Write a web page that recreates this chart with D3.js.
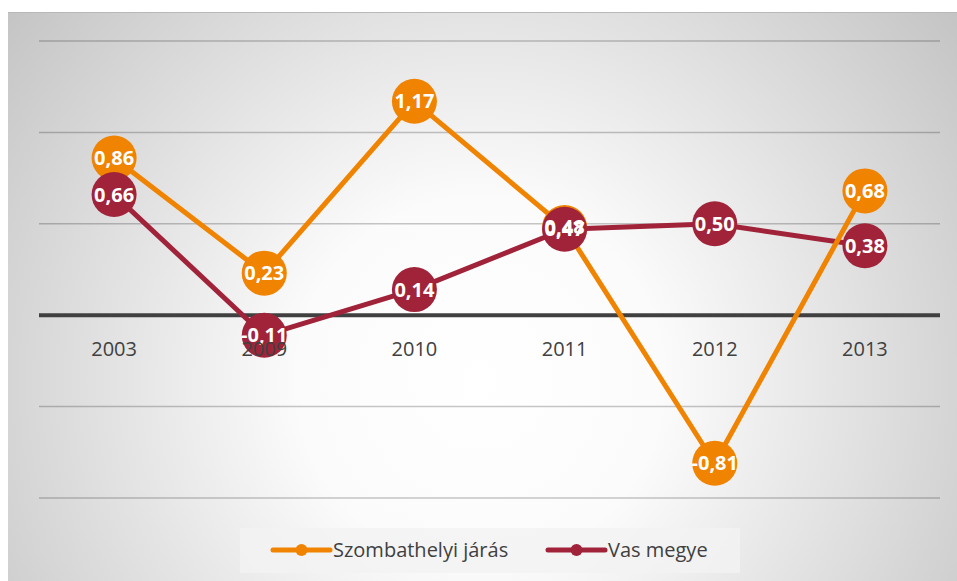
<!DOCTYPE html>
<html><head><meta charset="utf-8">
<script src="https://cdn.jsdelivr.net/npm/d3@7"></script>
<style>html,body{margin:0;padding:0;background:#fff;}svg{display:block;}</style>
</head><body>
<svg id="chart" width="957" height="581"></svg>
<script>
const categories = ["2003", "2009", "2010", "2011", "2012", "2013"];
const szombathely = [0.86, 0.23, 1.17, 0.48, -0.81, 0.68];
const vas = [0.66, -0.11, 0.14, 0.47, 0.50, 0.38];
const yTicks = [-1, -0.5, 0, 0.5, 1, 1.5];
const seriesNames = ["Szombathelyi járás", "Vas megye"];
const colors = ["#F08300", "#A0233A"];

const svg = d3.select("#chart");
const W = 957, H = 581;
const defs = svg.append("defs");
const grad = defs.append("radialGradient").attr("id", "bg")
  .attr("gradientUnits", "userSpaceOnUse")
  .attr("cx", 480).attr("cy", 380).attr("r", 610);
grad.append("stop").attr("offset", "0%").attr("stop-color", "#ffffff");
grad.append("stop").attr("offset", "30%").attr("stop-color", "#fbfbfb");
grad.append("stop").attr("offset", "100%").attr("stop-color", "#c3c3c3");

svg.append("rect").attr("x", 8).attr("y", 12).attr("width", W - 8).attr("height", H - 12)
  .attr("fill", "url(#bg)");
svg.append("line").attr("x1", 8).attr("x2", W).attr("y1", 12.5).attr("y2", 12.5)
  .attr("stroke", "#b8b8b8").attr("stroke-width", 1);

const x = d3.scalePoint().domain(categories).range([39, 940]).padding(0.5);
const y = d3.scaleLinear().domain([-1, 1.5]).range([498, 41]);

// gridlines
const grid = svg.append("g");
grid.selectAll("line").data(yTicks.filter(t => t !== 0)).join("line")
  .attr("x1", 39).attr("x2", 940)
  .attr("y1", d => y(d)).attr("y2", d => y(d))
  .attr("stroke", "#000").attr("stroke-opacity", 0.22).attr("stroke-width", 1.5);

// zero axis line
svg.append("line").attr("x1", 39).attr("x2", 940).attr("y1", y(0)).attr("y2", y(0))
  .attr("stroke", "#404040").attr("stroke-width", 4);

const data = [szombathely, vas];
const line = d3.line().x((d, i) => x(categories[i])).y(d => y(d));

// lines: red first, orange on top
[1, 0].forEach(s => {
  svg.append("path").datum(data[s]).attr("d", line)
    .attr("fill", "none").attr("stroke", colors[s]).attr("stroke-width", 5)
    .attr("stroke-linejoin", "round").attr("stroke-linecap", "round");
});
// markers
[0, 1].forEach(s => {
  svg.append("g").selectAll("circle").data(data[s]).join("circle")
    .attr("cx", (d, i) => x(categories[i])).attr("cy", d => y(d)).attr("r", 22.5)
    .attr("fill", colors[s]);
});
// labels
const fmt = v => d3.format(".2f")(v).replace(".", ",").replace("−", "-");
[0, 1].forEach(s => {
  svg.append("g").selectAll("text").data(data[s]).join("text")
    .attr("x", (d, i) => x(categories[i])).attr("y", d => y(d) + 7)
    .attr("text-anchor", "middle")
    .attr("font-family", "Open Sans, sans-serif").attr("font-weight", "bold")
    .attr("font-size", 20).attr("fill", "#fff")
    .text(d => fmt(d));
});

// category axis labels
svg.append("g").selectAll("text").data(categories).join("text")
  .attr("x", d => x(d)).attr("y", 355.5)
  .attr("text-anchor", "middle")
  .attr("font-family", "Open Sans, sans-serif").attr("font-size", 20)
  .attr("fill", "#404040").text(d => d);

// legend
const lg = svg.append("g");
lg.append("rect").attr("x", 240).attr("y", 528).attr("width", 500).attr("height", 45)
  .attr("fill", "#f2f2f2").attr("fill-opacity", 0.8);
const legendX = [273, 548];
seriesNames.forEach((n, s) => {
  const g = lg.append("g").attr("transform", `translate(${legendX[s]},550)`);
  g.append("line").attr("x1", 0).attr("x2", 57).attr("y1", 0).attr("y2", 0)
    .attr("stroke", colors[s]).attr("stroke-width", 5).attr("stroke-linecap", "round");
  g.append("circle").attr("cx", 28.5).attr("cy", 0).attr("r", 6).attr("fill", colors[s]);
  g.append("text").attr("x", 60).attr("y", 7).attr("font-family", "Open Sans, sans-serif")
    .attr("font-size", 20).attr("fill", "#404040").text(n);
});
</script>
</body></html>
